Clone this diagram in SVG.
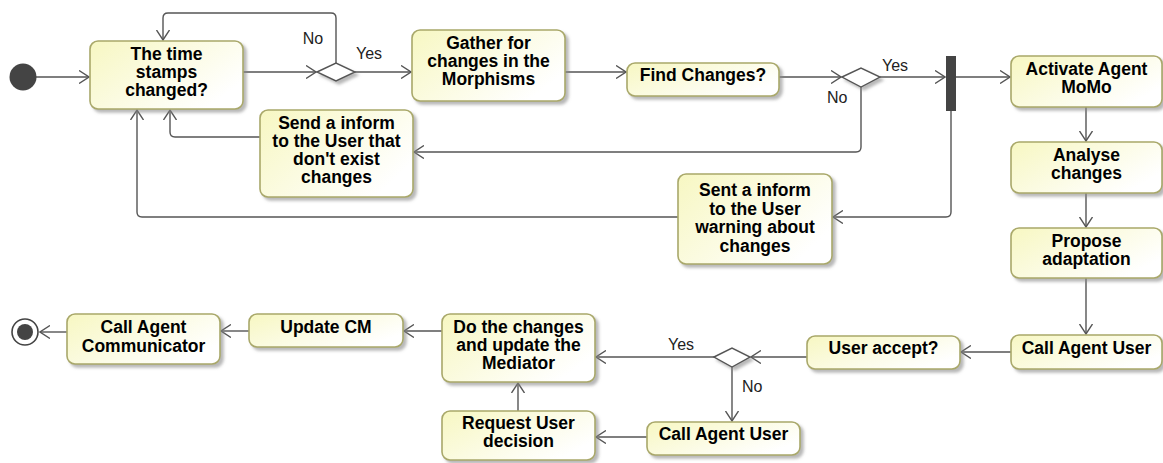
<svg xmlns="http://www.w3.org/2000/svg" width="1163" height="463" viewBox="0 0 1163 463">
<style>
.box{fill:url(#g);stroke:#a9a86a;stroke-width:1.6;filter:url(#sh)}
.t{font-family:"Liberation Sans",Arial,sans-serif;font-weight:bold;font-size:17.5px;fill:#000;text-anchor:middle}
.lbl{font-family:"Liberation Sans",Arial,sans-serif;font-size:16px;fill:#222}
.c{fill:none;stroke:#555;stroke-width:1.4;marker-end:url(#a)}
.dia{fill:#fff;stroke:#555;stroke-width:1.4;filter:url(#sh)}
</style>
<defs>
<linearGradient id="g" x1="0" y1="0" x2="1" y2="0.6">
<stop offset="0" stop-color="#f7f7c2"/>
<stop offset="1" stop-color="#ffffff"/>
</linearGradient>
<filter id="sh" x="-10%" y="-10%" width="130%" height="140%">
<feDropShadow dx="3" dy="3" stdDeviation="1.4" flood-color="#888" flood-opacity="0.6"/>
</filter>
<marker id="a" markerUnits="userSpaceOnUse" viewBox="0 -7 11 14" markerWidth="11" markerHeight="14" refX="10" refY="0" orient="auto">
<path d="M0,-6.5 L10,0 L0,6.5" fill="none" stroke="#555" stroke-width="1.4"/>
</marker>
</defs>
<rect width="1163" height="463" fill="#fff"/>

<g id="connectors">
<path class="c" d="M36,77 H89"/>
<path class="c" d="M243,72 H316"/>
<path class="c" d="M336,63 V18 Q336,13 331,13 H168 Q163,13 163,18 V40"/>
<path class="c" d="M355,72 H411"/>
<path class="c" d="M565,72 H626"/>
<path class="c" d="M779,77 H841"/>
<path class="c" d="M880,77 H945"/>
<path class="c" d="M861,87 V147 Q861,152 856,152 H414"/>
<path class="c" d="M260,137 H175 Q170,137 170,132 V110"/>
<path class="c" d="M956,77 H1010"/>
<path class="c" d="M951,111 V212 Q951,217 946,217 H833"/>
<path class="c" d="M678,217 H142 Q137,217 137,212 V110"/>
<path class="c" d="M1086,107 V141"/>
<path class="c" d="M1086,193 V227"/>
<path class="c" d="M1086,278 V334"/>
<path class="c" d="M1011,352 H961"/>
<path class="c" d="M807,357 H751"/>
<path class="c" d="M714,357 H596"/>
<path class="c" d="M732,367 V421"/>
<path class="c" d="M647,437 H596"/>
<path class="c" d="M518,411 V383"/>
<path class="c" d="M442,331 H404"/>
<path class="c" d="M249,331 H221"/>
<path class="c" d="M67,332 H40"/>
<text class="lbl" x="313" y="44" text-anchor="middle">No</text>
<text class="lbl" x="356" y="59">Yes</text>
<text class="lbl" x="882" y="71">Yes</text>
<text class="lbl" x="827" y="103">No</text>
<text class="lbl" x="668" y="350">Yes</text>
<text class="lbl" x="742" y="392">No</text>
</g>

<g id="initial"><circle cx="23" cy="77" r="13.5" fill="#444"/></g>
<g id="final"><circle cx="25" cy="332" r="13" fill="#fff" stroke="#444" stroke-width="1.6"/><circle cx="25" cy="332" r="8" fill="#444"/></g>

<g id="n_timestamps"><rect class="box" x="90" y="41" width="153" height="68" rx="8"/>
<text class="t" x="166.5" y="60">The time</text><text class="t" x="166.5" y="78">stamps</text><text class="t" x="166.5" y="96">changed?</text></g>

<g id="d1"><polygon class="dia" points="317,72 336,63 355,72 336,81"/></g>

<g id="n_gather"><rect class="box" x="412" y="30" width="153" height="71" rx="8"/>
<text class="t" x="488.5" y="49">Gather for</text><text class="t" x="488.5" y="67">changes in the</text><text class="t" x="488.5" y="85">Morphisms</text></g>

<g id="n_find"><rect class="box" x="627" y="63" width="152" height="33" rx="8"/>
<text class="t" x="703" y="81">Find Changes?</text></g>

<g id="d2"><polygon class="dia" points="842,77 861,68 880,77 861,87"/></g>

<g id="fork"><rect x="946" y="56" width="10" height="55" fill="#444"/></g>

<g id="n_activate"><rect class="box" x="1011" y="56" width="151" height="51" rx="8"/>
<text class="t" x="1086.5" y="75">Activate Agent</text><text class="t" x="1086.5" y="93">MoMo</text></g>

<g id="n_send"><rect class="box" x="260" y="110" width="153" height="87" rx="8"/>
<text class="t" x="336.5" y="129">Send a inform</text><text class="t" x="336.5" y="147">to the User that</text><text class="t" x="336.5" y="165">don't exist</text><text class="t" x="336.5" y="183">changes</text></g>

<g id="n_sent"><rect class="box" x="678" y="174" width="154" height="90" rx="8"/>
<text class="t" x="755" y="196">Sent a inform</text><text class="t" x="755" y="214.5">to the User</text><text class="t" x="755" y="233">warning about</text><text class="t" x="755" y="251.5">changes</text></g>

<g id="n_analyse"><rect class="box" x="1011" y="142" width="151" height="51" rx="8"/>
<text class="t" x="1086.5" y="161">Analyse</text><text class="t" x="1086.5" y="179">changes</text></g>

<g id="n_propose"><rect class="box" x="1011" y="228" width="151" height="50" rx="8"/>
<text class="t" x="1086.5" y="247">Propose</text><text class="t" x="1086.5" y="265">adaptation</text></g>

<g id="n_calluser1"><rect class="box" x="1011" y="335" width="151" height="34" rx="8"/>
<text class="t" x="1086.5" y="354">Call Agent User</text></g>

<g id="n_accept"><rect class="box" x="807" y="336" width="153" height="33" rx="8"/>
<text class="t" x="883.5" y="354">User accept?</text></g>

<g id="d3"><polygon class="dia" points="714,357 732,348 750,357 732,367"/></g>

<g id="n_calluser2"><rect class="box" x="647" y="422" width="153" height="33" rx="8"/>
<text class="t" x="723.5" y="440">Call Agent User</text></g>

<g id="n_request"><rect class="box" x="442" y="411" width="153" height="49" rx="8"/>
<text class="t" x="518.5" y="429">Request User</text><text class="t" x="518.5" y="447">decision</text></g>

<g id="n_dochanges"><rect class="box" x="442" y="314" width="153" height="68" rx="8"/>
<text class="t" x="518.5" y="333">Do the changes</text><text class="t" x="518.5" y="351">and update the</text><text class="t" x="518.5" y="369">Mediator</text></g>

<g id="n_updatecm"><rect class="box" x="249" y="314" width="154" height="33" rx="8"/>
<text class="t" x="326" y="333">Update CM</text></g>

<g id="n_communicator"><rect class="box" x="67" y="314" width="153" height="50" rx="8"/>
<text class="t" x="143.5" y="333">Call Agent</text><text class="t" x="143.5" y="352">Communicator</text></g>
</svg>
